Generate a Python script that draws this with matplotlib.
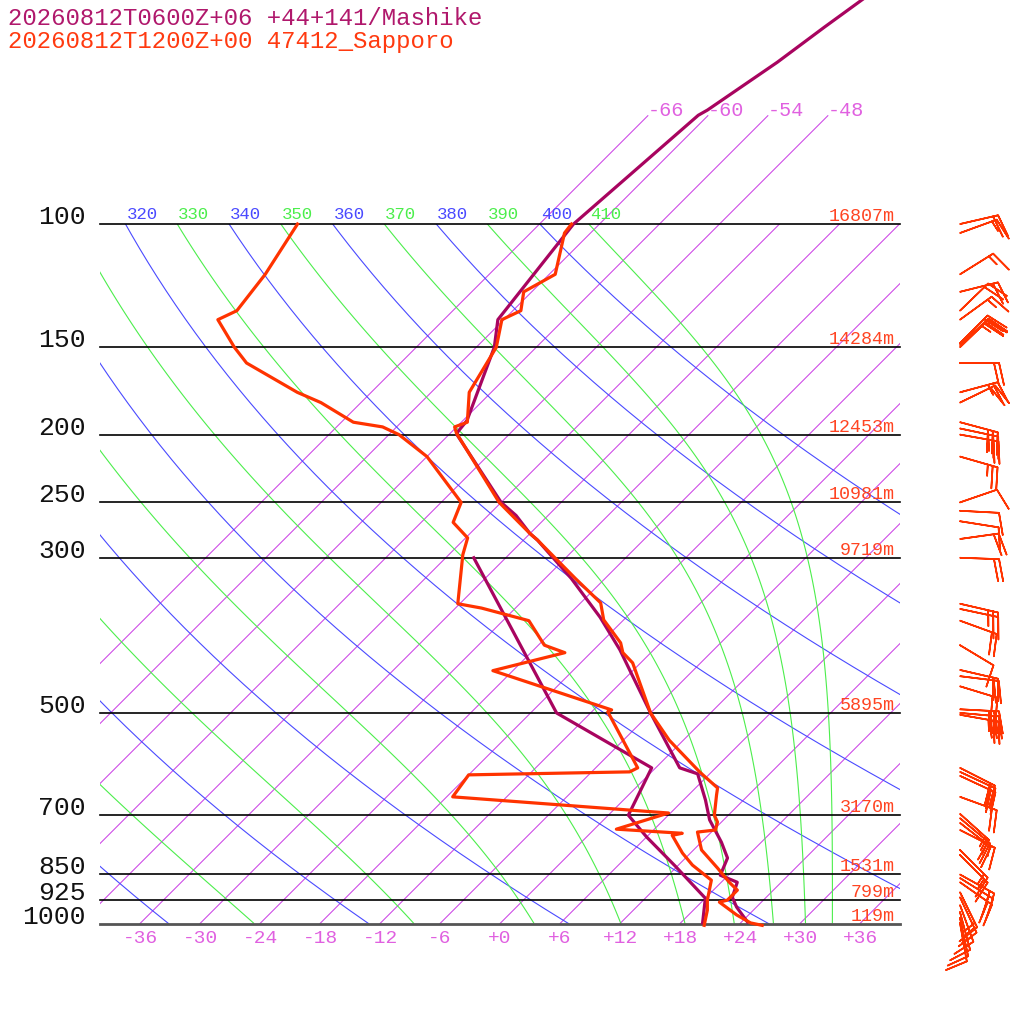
"""Skew-T log-p: Mashike model sounding against the Sapporo (47412) radiosonde."""

import numpy as np
import matplotlib
matplotlib.use("Agg")
import matplotlib.pyplot as plt
from matplotlib.patches import Rectangle

SKEW = 69.95      # X shift per decade of pressure -> 45 degree isotherms
KAPPA = 0.2857

# Mashike (model, +06 h): temperature and dew point
mashike_t_p = [995, 947, 917, 873, 853, 806, 765, 711, 666, 611, 599, 500, 406, 365, 321,
               283, 277, 261, 250, 200, 198, 191, 150, 137, 100, 69.9, 68.7, 58.7, 52.3, 47.5]
mashike_t = [24.6, 22.0, 20.6, 19.6, 17.2, 16.2, 14.0, 10.6, 8.2, 4.8, 2.4, -6.0, -15.4, -20.6, -27.4,
             -34.6, -36.0, -39.2, -42.0, -53.2, -53.4, -53.6, -58.2, -60.6, -62.6, -61.0, -60.6, -58.4,
             -57.2, -56.1]
mashike_td_p = [998, 920, 828, 752, 700, 599, 500, 300]
mashike_td = [20.2, 18.0, 11.8, 6.0, 2.0, -0.4, -15.4, -39.2]

# Sapporo radiosonde 12Z: temperature and dew point
sapporo_t_p = [1006, 998, 972, 932, 926, 896, 873, 833, 785, 740, 735, 716, 700, 655, 640, 609,
               603, 547, 500, 424, 410, 397, 368, 348, 321, 283, 277, 250, 199, 195, 192, 174,
               150, 137, 133, 125, 118, 103, 100]
sapporo_t = [26.4, 25.0, 22.8, 19.8, 20.4, 20.4, 18.8, 16.2, 12.8, 10.6, 12.2, 11.6, 10.6, 8.8, 8.2,
             5.0, 4.4, -1.4, -6.0, -12.8, -14.8, -16.0, -20.0, -22.0, -27.0, -34.6, -36.0, -42.2,
             -53.4, -54.2, -53.4, -56.2, -58.0, -60.2, -59.2, -60.8, -59.4, -62.6, -62.8]
sapporo_td_p = [1006, 957, 926, 867, 825, 793, 748, 743, 733, 695, 659, 613, 607, 599, 498, 495,
                435, 410, 400, 369, 354, 349, 297, 281, 267, 250, 215, 200, 195, 192, 180, 174,
                158, 150, 137, 133, 118, 100]
sapporo_td = [20.6, 19.4, 18.4, 16.8, 13.4, 11.2, 8.4, 9.2, 2.2, 5.8, -17.4, -18.0, -2.2, -1.8,
              -10.4, -10.2, -26.0, -20.6, -23.4, -27.4, -33.4, -36.2, -40.6, -41.8, -44.8, -46.0,
              -54.0, -59.0, -61.4, -64.8, -70.0, -73.4, -81.4, -84.2, -88.6, -87.6, -88.4, -90.2]

# Sapporo winds (direction deg, speed kt)
wind_p = [100, 103, 118, 125, 133, 137, 148, 149, 150, 158, 174, 180, 192, 196, 200, 215,
          250, 257, 266, 282, 300, 349, 355, 369, 400, 434, 443, 458, 494, 500, 503,
          599, 607, 615, 659, 697, 707, 718, 735, 785, 798, 851, 861, 873,
          902, 917, 941, 963, 982, 998]
wind_dir = [77, 70, 58, 76, 46, 54, 45, 47, 46, 90, 75, 64, 105, 102, 100, 106,
            71, 93, 99, 82, 92, 103, 102, 110, 121, 103, 97, 107, 93, 95, 100,
            117, 115, 115, 110, 132, 130, 128, 117, 135, 135, 119, 122, 125,
            154, 155, 160, 165, 168, 170]
wind_spd = [20, 15, 15, 20, 20, 15, 20, 25, 20, 20, 25, 20, 30, 25, 25, 25,
            10, 10, 10, 20, 20, 25, 25, 20, 10, 20, 20, 20, 30, 30, 25,
            20, 20, 20, 20, 15, 15, 15, 15, 15, 15, 20, 20, 20,
            15, 15, 15, 10, 10, 10]

# isobars and standard-level heights
isobars = [1000, 925, 850, 700, 500, 300, 250, 200, 150, 100]
heights = ["119m", "799m", "1531m", "3170m", "5895m", "9719m", "10981m", "12453m", "14284m", "16807m"]

isotherms = np.arange(-66, 37, 6)
upper_isotherms = [-66, -60, -54, -48]
dry_thetas = np.arange(240, 401, 20)
moist_thetas = np.arange(250, 411, 20)
tick_temps = np.arange(-36, 37, 6)

C_MASHIKE = "#a8045f"
C_SAPPORO = "#ff3300"
C_ISO = "#cc44e6"
C_ISOTXT = "#e060e0"
C_DRY = "#4a4aff"
C_MOIST = "#4cee4c"
FONT = "Liberation Mono"


def skew_x(t, p):
    return np.asarray(t, float) + SKEW * np.log10(1000.0 / np.asarray(p, float))


def theta_es(tc, p):
    """Bolton (1980) equivalent potential temperature of saturated air."""
    tk = tc + 273.15
    es = 6.112 * np.exp(17.67 * tc / (tc + 243.5))
    r = 622.0 * es / (p - es)
    th = tk * (1000.0 / p) ** (KAPPA * (1 - 0.28e-3 * r))
    return th * np.exp((3.376 / tk - 0.00254) * r * (1 + 0.81e-3 * r))


fig = plt.figure(figsize=(10.24, 10.24), dpi=100)
ax = fig.add_axes([0, 0, 1, 1])
ax.set_yscale("log")
ax.set_xlim(-50, 52.4)
ax.set_ylim(1392.0, 47.83)
ax.axis("off")

clip = Rectangle((-40, 100), 80, 900, transform=ax.transData, facecolor="none", edgecolor="none")
txtclip = Rectangle((-40, 60), 80, 940, transform=ax.transData, facecolor="none", edgecolor="none")

# isotherms
for t in isotherms:
    ln, = ax.plot(skew_x([t, t], [1000, 100]), [1000, 100], color=C_ISO, lw=0.75, zorder=1)
    ln.set_clip_path(clip)
for t in upper_isotherms:
    ax.plot(skew_x([t, t], [100, 70]), [100, 70], color=C_ISO, lw=0.75, zorder=1)
    ax.text(skew_x(t, 70), 70, "%d" % t, color=C_ISOTXT, fontsize=14.5, family=FONT,
            ha="left", va="baseline")

# dry adiabats
pp = np.logspace(3, 2, 200)
for th in dry_thetas:
    tc = th * (pp / 1000.0) ** KAPPA - 273.15
    ln, = ax.plot(skew_x(tc, pp), pp, color=C_DRY, lw=0.8, zorder=1)
    ln.set_clip_path(clip)
    x100 = skew_x(th * 0.1 ** KAPPA - 273.15, 100)
    t = ax.annotate("%d" % th, (x100, 100), xytext=(1, 5), textcoords="offset pixels",
                    color=C_DRY, fontsize=12.5, family=FONT, ha="left", va="baseline")
    t.set_clip_path(txtclip)

# moist (pseudo) adiabats as saturated theta-e contours
xs = np.linspace(-41, 41, 821)
ps = np.logspace(3, 2, 400)
XG, PG = np.meshgrid(xs, ps)
TG = XG - SKEW * np.log10(1000.0 / PG)
cs = ax.contour(XG, PG, theta_es(TG, PG), levels=moist_thetas, colors=C_MOIST,
                linewidths=0.8, zorder=1)
cs.set_clip_path(clip)
row = theta_es(xs - SKEW, 100.0)
for th in moist_thetas:
    x100 = np.interp(th, row, xs, left=-60, right=60)
    if x100 < -44:
        continue
    t = ax.annotate("%d" % th, (x100, 100), xytext=(1, 5), textcoords="offset pixels",
                    color=C_MOIST, fontsize=12.5, family=FONT, ha="left", va="baseline")
    t.set_clip_path(txtclip)

# isobars, pressure labels, heights
for p, h in zip(isobars, heights):
    if p == 1000:
        ax.plot([-40, 40], [p, p], color="#555555", lw=2.0, zorder=2)
    else:
        ax.plot([-40, 40], [p, p], color="black", lw=1.2, zorder=2)
    ax.text(-41.4, p, "%d" % p, fontsize=19, family=FONT, ha="right", va="baseline", color="#111111")
    ax.annotate(h, (39.5, p), xytext=(0, 3), textcoords="offset pixels", color="#ff4422",
                fontsize=13.2, family=FONT, ha="right", va="baseline")

for t in tick_temps:
    ax.annotate("%+d" % t, (t, 1000), xytext=(0, -19.5), textcoords="offset pixels",
                color=C_ISOTXT, fontsize=14, family=FONT, ha="center", va="baseline")

# soundings
ax.plot(skew_x(mashike_td, mashike_td_p), mashike_td_p, color=C_MASHIKE, lw=2.3, zorder=5)
ax.plot(skew_x(mashike_t, mashike_t_p), mashike_t_p, color=C_MASHIKE, lw=2.3, zorder=5)
ax.plot(skew_x(sapporo_td, sapporo_td_p), sapporo_td_p, color=C_SAPPORO, lw=2.3, zorder=6)
ax.plot(skew_x(sapporo_t, sapporo_t_p), sapporo_t_p, color=C_SAPPORO, lw=2.3, zorder=6)

# wind barbs
wd = np.radians(wind_dir)
spd = np.asarray(wind_spd, float)
u = -spd * np.sin(wd)
v = -spd * np.cos(wd)
ax.barbs(np.full(len(wind_p), 46.0), wind_p, u, v, length=7.5, pivot="tip", color=C_SAPPORO,
         linewidth=1.2, sizes=dict(height=0.56, spacing=0.13), clip_on=False, zorder=7)

fig.text(8 / 1024, 1 - 25 / 1024, "20260812T0600Z+06 +44+141/Mashike", color="#b0186c",
         fontsize=17.3, family=FONT, ha="left", va="baseline")
fig.text(8 / 1024, 1 - 48 / 1024, "20260812T1200Z+00 47412_Sapporo", color="#ff3a10",
         fontsize=17.3, family=FONT, ha="left", va="baseline")

fig.savefig("out.png", dpi=100, facecolor="white")
